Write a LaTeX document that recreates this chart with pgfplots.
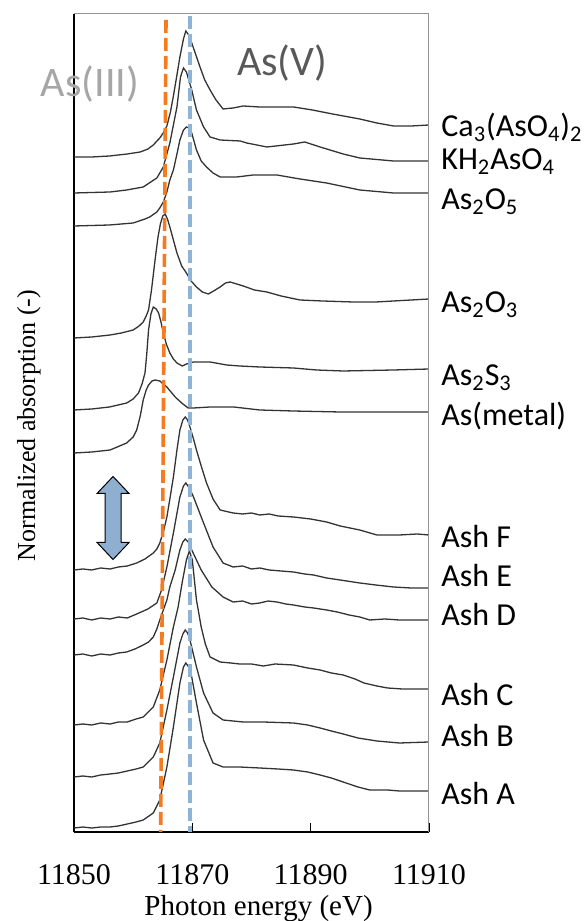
\documentclass[border=0pt]{standalone}
\usepackage{fontspec}
\setmainfont{Liberation Serif}
\newfontfamily\calfont{Carlito}
\usepackage{pgfplots}
\pgfplotsset{compat=1.18}

\definecolor{dashorange}{HTML}{F47B20}
\definecolor{dashblue}{HTML}{8DB4D8}
\definecolor{arrowblue}{HTML}{8EAFCF}
\definecolor{curve}{HTML}{333333}

\begin{document}
\begin{tikzpicture}
\begin{axis}[
 scale only axis, width=177.5pt, height=409pt,
 xmin=11850, xmax=11910, ymin=0, ymax=818,
 axis x line*=bottom, axis y line*=left,
 x axis line style={black, line width=0.8pt},
 y axis line style={black, line width=1pt},
 xtick={11850,11870,11890,11910}, ytick=\empty,
 scaled x ticks=false,
 tick align=inside, major tick length=4.5pt,
 tick style={black, line width=0.6pt},
 xticklabel style={font=\fontsize{15}{16}\selectfont, anchor=center, yshift=-21.5pt, /pgf/number format/1000 sep={}},
 /pgf/number format/assume math mode=true,
 xlabel={Photon energy (eV)},
 xlabel style={font=\fontsize{14.5}{16}\selectfont, at={(axis description cs:0.52,-0.093)}, anchor=center},
 ylabel={Normalized absorption (-)},
 ylabel style={font=\fontsize{13}{15}\selectfont, at={(axis description cs:-0.127,0.497)}, anchor=center},
 clip=false,
 spec/.style={curve, line width=0.65pt, mark=none},
]
% Ca3(AsO4)2
\addplot[spec] coordinates {(11850,675)(11853,675)(11856,676)(11859,678)(11861.2,680)(11862.5,683)(11863.4,687)(11864.5,694)(11865.2,700)(11865.7,706)(11866.3,720)(11866.8,736)(11867.4,757)(11867.9,775)(11868.5,793)(11868.9,801)(11869.4,797)(11869.9,789)(11870.6,777)(11871.3,765)(11872.1,752)(11873,742)(11874,732)(11875.2,723)(11876,723.5)(11876.9,724)(11878.6,726)(11881.4,725)(11884.3,725)(11887.1,725)(11890.3,722)(11893.7,718)(11898.3,713)(11901.2,709)(11904,706)(11907,706)(11910,707)};
% KH2AsO4
\addplot[spec] coordinates {(11850,639)(11856.1,640)(11858.9,642)(11861.7,645)(11864,654)(11865.1,665)(11866.2,689)(11867.4,725)(11868,755)(11868.5,764)(11869,760)(11869.9,742)(11870.7,722)(11871.9,705)(11873,695)(11874.7,692)(11878.1,691)(11879.2,689)(11882.6,685)(11887.1,688)(11889,690)(11891.6,685)(11895.5,678)(11898.3,674)(11904,671)(11910,671)};
% As2O5
\addplot[spec] coordinates {(11850,606)(11856,607)(11860,609)(11862,613)(11862.8,615)(11864,620)(11864.5,624)(11865.1,630)(11865.7,640)(11866.2,652)(11866.8,662)(11867.4,678)(11867.9,692)(11868.5,702)(11869,705)(11869.5,704)(11869.9,699)(11870.7,682)(11871.5,671)(11872.4,665)(11873.5,659)(11874.7,655)(11877.5,655)(11880.3,657)(11884.3,657)(11888.2,653)(11892.7,649)(11898.3,642)(11904,639)(11910,639)};
% As2O3
\addplot[spec] coordinates {(11850,494)(11853,495)(11856.1,497)(11858,499)(11860,502)(11861,506)(11861.7,510)(11862.2,516)(11862.6,522)(11863.1,542)(11863.7,572)(11864.2,595)(11864.6,608)(11865,616)(11865.4,618)(11865.8,613)(11866.2,605)(11866.8,592)(11867.4,579)(11868.2,566)(11869,559)(11869.8,551)(11870.7,545)(11871.7,540)(11872.7,538)(11873.6,541)(11874.7,545)(11875.6,549)(11876.4,550)(11877.5,548)(11878.6,546)(11880.5,542)(11882.6,540)(11885,536)(11888.2,532)(11892,531)(11897.2,530)(11901,530)(11904,531)(11910,533)};
% As2S3
\addplot[spec] coordinates {(11850,422)(11853,423)(11856,425)(11858.9,429)(11860,433)(11860.9,439)(11861.5,448)(11862,459)(11862.3,478)(11862.6,502)(11863,518)(11863.4,525)(11863.9,523)(11864.3,519)(11864.7,510)(11865.1,499)(11865.6,488)(11866.2,479)(11866.8,473)(11867.4,469)(11868.3,466)(11869,468)(11870.2,470)(11873,470)(11875.8,467)(11878,466)(11881.4,465)(11887.1,464)(11891,462)(11895.5,461)(11904,462)(11910,463)};
% As(metal)
\addplot[spec] coordinates {(11850,379)(11853,380)(11856.1,382)(11858.9,389)(11860,395)(11860.6,402)(11861.2,416)(11861.7,432)(11862.2,442)(11862.6,447)(11863.2,451)(11863.7,452)(11864.5,451)(11865.1,448)(11865.7,445)(11866.4,440)(11867.1,435)(11868.2,429)(11869.3,424)(11870.2,424)(11873,425)(11877,425)(11881.4,422)(11887,421)(11895,420)(11910,420)};
% Ash F
\addplot[spec] coordinates {(11850,262)(11851.5,263)(11853,262)(11854.5,264)(11856.1,263)(11857.5,265)(11859,266)(11860.6,269)(11862,273)(11863.4,279)(11864,283)(11864.5,289)(11865.1,300)(11865.7,315)(11866.2,333)(11866.8,355)(11867.4,382)(11867.9,402)(11868.4,412)(11868.8,415)(11869.2,412)(11869.6,405)(11870.2,393)(11870.7,382)(11871.5,366)(11872.4,349)(11873.5,333)(11874.7,322)(11876.9,319)(11878.5,318)(11880,319)(11881.4,317)(11883,318)(11884.5,316)(11887.1,315)(11890,313)(11892.7,310)(11895,306)(11898.3,302)(11901.2,297)(11905,297)(11908,298)(11910,297)};
% Ash E
\addplot[spec] coordinates {(11850,213)(11851.5,214)(11853,212)(11854.5,214)(11856.1,213)(11857.5,215)(11859,214)(11860.6,218)(11862.5,223)(11864,229)(11864.8,242)(11865.7,265)(11866.8,299)(11867.9,335)(11868.5,346)(11868.9,349)(11869.5,344)(11870.2,335)(11871.9,309)(11873.5,285)(11875.2,269)(11876.9,265)(11878.5,266)(11880,263)(11881.4,264)(11883,262)(11885,261)(11887.1,260)(11889,258)(11890.5,257)(11892.7,254)(11895,252)(11898.3,249)(11901,247)(11904,245)(11907,244)(11910,244)};
% Ash D
\addplot[spec] coordinates {(11850,177)(11851.5,178)(11853,176)(11854.5,178)(11856.1,177)(11857.5,179)(11858.9,180)(11860.3,183)(11861.7,187)(11862.6,190)(11863.4,195)(11864,203)(11864.5,212)(11865.7,232)(11866.2,245)(11867.1,262)(11867.9,282)(11868.4,290)(11868.8,293)(11869.3,290)(11869.9,282)(11871.5,262)(11873.3,245)(11875.2,235)(11876.9,230)(11878.5,231)(11880,228)(11881.4,229)(11882.8,231)(11884.3,230)(11885.8,228)(11887.1,227)(11889,225)(11890.5,224)(11892.7,222)(11894.5,220)(11896.5,217)(11898.3,215)(11900,212)(11902.5,213)(11905,212)(11907.5,212)(11910,212)};
% Ash C
\addplot[spec] coordinates {(11850,107)(11851.5,108)(11853,107)(11854.5,109)(11856.1,108)(11857.5,110)(11859,110)(11860.5,113)(11861.7,115)(11863.4,125)(11864.5,142)(11865.7,172)(11866.8,205)(11867.6,225)(11868.3,250)(11869,272)(11869.5,281)(11870,272)(11870.7,232)(11871.5,205)(11872.2,188)(11873,175)(11874.7,170)(11876.5,169)(11878,168)(11880,168)(11882,166)(11884,168)(11887.1,167)(11889.5,164)(11891.6,162)(11893.5,159)(11895.5,157)(11897.5,153)(11899,149)(11901.2,146)(11903,144)(11905.5,143)(11910,143)};
% Ash B
\addplot[spec] coordinates {(11850,55)(11851.5,56)(11853,55)(11854.5,57)(11856.1,58)(11857.5,59)(11859,61)(11860.5,63)(11861.7,65)(11863.4,75)(11864.5,89)(11865.7,122)(11866.8,155)(11867.9,189)(11868.4,198)(11868.8,202)(11869.2,199)(11869.6,192)(11870.7,165)(11871.9,139)(11873.5,119)(11875.2,112)(11878.6,110)(11882,110)(11887.1,109)(11889.5,107)(11891.6,104)(11893.5,101)(11895.5,98)(11898,94)(11901.2,91)(11905,89)(11910,90)};
% Ash A
\addplot[spec] coordinates {(11850,4)(11851.5,5)(11853,4)(11854.5,5)(11856.1,5)(11857.5,6)(11859,8)(11860.5,10)(11861.7,12)(11863.4,19)(11864.5,32)(11865.7,65)(11866.8,105)(11867.9,149)(11868.5,165)(11868.9,169)(11869.4,165)(11869.9,155)(11870.7,129)(11871.9,92)(11873.5,69)(11875.2,65)(11878,65)(11881.4,64)(11884.5,63)(11887.1,62)(11889.5,60)(11891.6,57)(11893.5,54)(11895.5,50)(11898,45)(11900,42)(11903,42)(11905,41)(11910,41)};
% reference energies
\addplot[dashorange, line width=1.8pt, dash pattern=on 6.5pt off 2.5pt, mark=none] coordinates {(11865.55,812)(11864.65,0)};
\addplot[dashblue, line width=1.8pt, dash pattern=on 6.5pt off 2.5pt, mark=none] coordinates {(11869.65,816)(11869.65,0)};
% frame (top and right in grey)
\draw[gray!85, line width=0.5pt] (rel axis cs:0,1) -- (rel axis cs:1,1) -- (rel axis cs:1,0);
\coordinate (bl) at (rel axis cs:0,0);
\coordinate (tr) at (rel axis cs:1,1);
% arrow
\draw[shift={(axis cs:11856.6,314)}, fill=arrowblue, draw=black, line width=0.5pt]
 (0pt,20.75pt) -- (8pt,12.25pt) -- (4pt,12.25pt) -- (4pt,-12.25pt) -- (8pt,-12.25pt) -- (0pt,-20.75pt)
 -- (-8pt,-12.25pt) -- (-4pt,-12.25pt) -- (-4pt,12.25pt) -- (-8pt,12.25pt) -- cycle;
% oxidation states
\node[font=\calfont\fontsize{21}{21}\selectfont, text=black!65] at (axis cs:11885.2,769) {As(V)};
\node[font=\calfont\fontsize{21}{21}\selectfont, text=black!35] at (axis cs:11852.7,748) {As(III)};
% sample labels
\begin{scope}[every node/.style={anchor=west, xshift=6pt, font=\calfont\fontsize{16}{16}\selectfont, inner sep=0pt}]
\node at (axis cs:11910,705) {Ca\textsubscript{3}(AsO\textsubscript{4})\textsubscript{2}};
\node at (axis cs:11910,670) {KH\textsubscript{2}AsO\textsubscript{4}};
\node at (axis cs:11910,630) {As\textsubscript{2}O\textsubscript{5}};
\node at (axis cs:11910,527) {As\textsubscript{2}O\textsubscript{3}};
\node at (axis cs:11910,454) {As\textsubscript{2}S\textsubscript{3}};
\node at (axis cs:11910,416) {As(metal)};
\node at (axis cs:11910,295) {Ash F};
\node at (axis cs:11910,256) {Ash E};
\node at (axis cs:11910,217) {Ash D};
\node at (axis cs:11910,137) {Ash C};
\node at (axis cs:11910,96) {Ash B};
\node at (axis cs:11910,38) {Ash A};
\end{scope}
\end{axis}
\pgfresetboundingbox
\path ([shift={(-37pt,-44.5pt)}]bl) rectangle ([shift={(79pt,7pt)}]tr);
\end{tikzpicture}
\end{document}
